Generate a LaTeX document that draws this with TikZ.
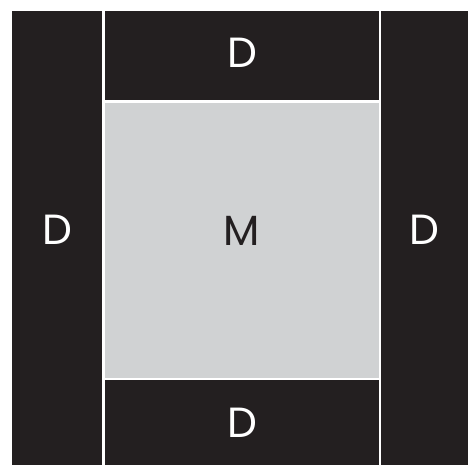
\documentclass[tikz,border=0pt]{standalone}
\usepackage{fontspec}
\usepackage{tikz}
\newfontfamily\panelfont{Poppins}
\definecolor{panelblack}{RGB}{35, 31, 32}
\definecolor{panelgray}{RGB}{208, 210, 211}
\tikzset{
    panel/.style = {rectangle, inner sep=0pt, fill=panelblack, text=white, font=\panelfont\fontsize{30}{30}\selectfont},
    centre/.style = {panel, fill=panelgray, text=panelblack}
}

\begin{document}
\begin{tikzpicture}[x=0.025cm, y=-0.025cm]
\useasboundingbox (0,0) rectangle (468,465);
\node (L) [panel, text depth=0.4cm, minimum width=2.23cm, minimum height=11.34cm] at (57.1,238.25) {D};
\node (T) [panel, text depth=0.13cm, minimum width=6.85cm, minimum height=2.22cm] at (242,55.9) {D};
\node (M) [centre, text depth=0.5cm, minimum width=6.84cm, minimum height=6.875cm] at (241.85,240.8) {M};
\node (B) [panel, minimum width=6.85cm, minimum height=2.125cm] at (242,422.5) {D};
\node (R) [panel, text depth=0.4cm, minimum width=2.1625cm, minimum height=11.34cm] at (424.75,238.25) {D};
\end{tikzpicture}
\end{document}
